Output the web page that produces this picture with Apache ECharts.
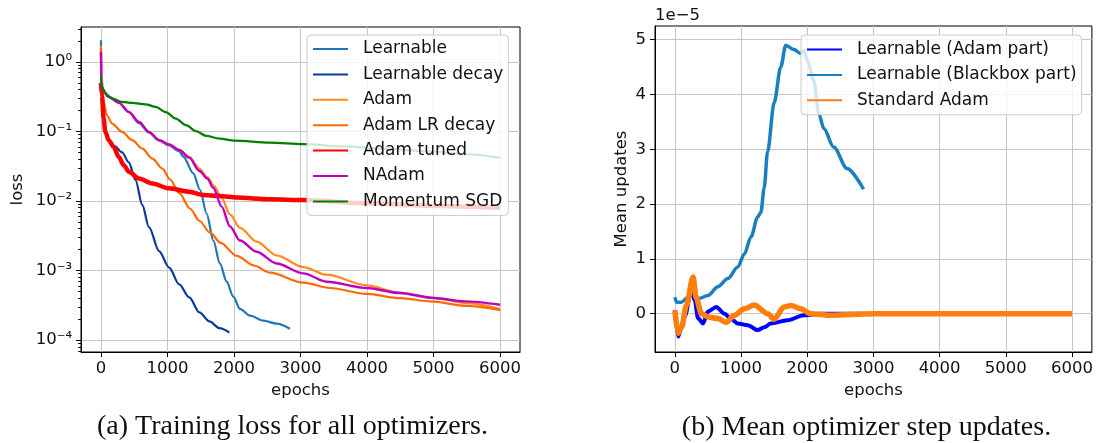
<!DOCTYPE html>
<html>
<head>
<meta charset="utf-8">
<script src="https://cdn.jsdelivr.net/npm/echarts@6/dist/echarts.min.js"></script>
<style>
  html, body { margin: 0; padding: 0; background: #fff; }
  #chart { width: 1096px; height: 443px; }
</style>
</head>
<body>
<div id="chart"></div>
<script>
// ---- (a) training loss, [epoch, loss] ----
const learnable = [[0, 2.05], [5, 0.5], [15, 0.41], [116, 0.314], [268, 0.26], [419, 0.19], [571, 0.132],
    [722, 0.096], [874, 0.074], [1025, 0.063], [1177, 0.052], [1238, 0.0436], [1388, 0.025], [1489, 0.0145],
    [1589, 0.0066], [1689, 0.0027], [1789, 0.00126], [1890, 0.00069], [1990, 0.00042], [2090, 0.00028],
    [2240, 0.000225], [2441, 0.00019], [2641, 0.000172], [2842, 0.000145]];
const learnableDecay = [[0, 0.45], [15, 0.3], [40, 0.15], [66, 0.098], [116, 0.076], [200, 0.062], [318, 0.05],
    [419, 0.036], [520, 0.02], [621, 0.0088], [722, 0.0042], [874, 0.0019], [1025, 0.0011], [1177, 0.00063],
    [1328, 0.00041], [1480, 0.00025], [1631, 0.000185], [1783, 0.000148], [1930, 0.000128]];
const adam = [[0, 1.7], [5, 0.5], [15, 0.41], [116, 0.314], [268, 0.26], [419, 0.19], [571, 0.137], [722, 0.0986],
    [874, 0.075], [1025, 0.0648], [1177, 0.054], [1328, 0.043], [1480, 0.029], [1600, 0.022], [1700, 0.0165],
    [1815, 0.011], [1940, 0.0064], [2090, 0.0041], [2341, 0.0026], [2641, 0.00165], [3042, 0.00112],
    [3393, 0.00087], [3996, 0.00061], [4488, 0.00048], [5005, 0.000405], [5500, 0.00034], [6000, 0.00028]];
const adamLrDecay = [[0, 1.6], [5, 0.45], [40, 0.266], [91, 0.171], [167, 0.13], [318, 0.0986], [470, 0.0749],
    [621, 0.0568], [773, 0.0408], [924, 0.0293], [1038, 0.0205], [1177, 0.013], [1338, 0.0078], [1480, 0.0052],
    [1639, 0.0035], [1800, 0.0025], [2040, 0.00162], [2300, 0.00118], [2541, 0.00093], [3042, 0.00067],
    [3443, 0.00056], [3996, 0.00046], [4500, 0.0004], [4953, 0.00036], [5500, 0.00031], [6000, 0.00027]];
const adamTuned = [[0, 0.5], [15, 0.33], [40, 0.154], [66, 0.099], [116, 0.075], [192, 0.06], [268, 0.043],
    [343, 0.0327], [419, 0.0263], [571, 0.021], [773, 0.0178], [1025, 0.0152], [1328, 0.0136], [1539, 0.0122],
    [1783, 0.0118], [2040, 0.0112], [2541, 0.0106], [3042, 0.0103], [4000, 0.0093], [5000, 0.0085], [6000, 0.008]];
const nadam = [[0, 1.4], [5, 0.5], [15, 0.41], [116, 0.314], [268, 0.26], [419, 0.191], [571, 0.137], [722, 0.0986],
    [874, 0.075], [1025, 0.0648], [1177, 0.054], [1328, 0.042], [1480, 0.027], [1600, 0.021], [1689, 0.0155],
    [1815, 0.0083], [1940, 0.0043], [2090, 0.0027], [2341, 0.00186], [2641, 0.00126], [3042, 0.00091],
    [3393, 0.00069], [3996, 0.00056], [4488, 0.000474], [5005, 0.000402], [5471, 0.00036], [6000, 0.000322]];
const momentumSgd = [[0, 0.62], [10, 0.45], [66, 0.35], [167, 0.3], [318, 0.266], [470, 0.257], [672, 0.246],
    [823, 0.225], [975, 0.19], [1126, 0.153], [1278, 0.123], [1429, 0.101], [1581, 0.0865], [1783, 0.079],
    [2005, 0.074], [2541, 0.069], [3042, 0.0656], [3660, 0.061], [4300, 0.056], [4953, 0.0515], [5500, 0.047],
    [6000, 0.042]];

// ---- (b) mean step updates, [epoch, value in units of 1e-5] ----
const adamPart = [[0, 0.06], [50, -0.42], [100, -0.24], [150, -0.05], [250, 0.43], [300, 0.24], [350, -0.08],
    [425, -0.18], [500, 0.04], [625, 0.12], [750, 0.0], [850, -0.1], [950, -0.18], [1100, -0.21], [1250, -0.3],
    [1350, -0.25], [1450, -0.18], [1700, -0.12], [1950, -0.03], [2200, 0.0], [2500, 0.0], [2842, 0.0]];
const blackboxPart = [[0, 0.3], [25, 0.21], [100, 0.21], [200, 0.3], [275, 0.45], [350, 0.27], [500, 0.33],
    [650, 0.49], [800, 0.64], [950, 0.85], [1050, 1.09], [1150, 1.4], [1250, 1.76], [1300, 1.85], [1350, 2.3],
    [1400, 2.95], [1500, 3.85], [1600, 4.5], [1675, 4.9], [1800, 4.82], [1900, 4.75], [1950, 4.8], [2000, 4.62],
    [2100, 4.25], [2175, 3.65], [2250, 3.38], [2400, 3.04], [2600, 2.65], [2850, 2.27]];
const standardAdam = [[0, 0.06], [50, -0.36], [100, -0.25], [175, 0.15], [275, 0.67], [320, 0.3], [400, 0.0],
    [500, -0.06], [650, -0.09], [775, -0.16], [900, -0.03], [1050, 0.09], [1200, 0.16], [1400, 0.0], [1500, -0.1],
    [1650, 0.12], [1750, 0.15], [1900, 0.09], [2050, 0.0], [2350, -0.03], [3000, 0.0], [4000, 0.0], [5000, 0.0],
    [6000, 0.0]];

const lossNames = ["Learnable", "Learnable decay", "Adam", "Adam LR decay", "Adam tuned", "NAdam", "Momentum SGD"];
const updateNames = ["Learnable (Adam part)", "Learnable (Blackbox part)", "Standard Adam"];
const epochTicks = [0, 1000, 2000, 3000, 4000, 5000, 6000];
const lossTicks = [1e-4, 1e-3, 1e-2, 1e-1, 1];
const updateTicks = [0, 1, 2, 3, 4, 5];

const FONT = "DejaVu Sans";
const SUP = { "0": "\u2070", "1": "\u00b9", "2": "\u00b2", "3": "\u00b3", "4": "\u2074", "5": "\u2075", "-": "\u207b" };

function powLabel(v) {
    const l = Math.log10(v);
    const r = Math.round(l);
    if (Math.abs(l - r) > 1e-6) return "";
    return "10" + String(r).split("").map(c => SUP[c]).join("");
}

function xAxisFor(gridIndex) {
    return {
        type: "value", gridIndex: gridIndex, min: -300, max: 6300,
        name: "epochs", nameLocation: "middle", nameGap: 29,
        nameTextStyle: { fontFamily: FONT, fontSize: 16.5, color: "#111" },
        axisLine: { onZero: false, lineStyle: { color: "#000", width: 1 } },
        axisTick: { length: 5, customValues: epochTicks, lineStyle: { color: "#000" } },
        axisLabel: {
            fontFamily: FONT, fontSize: 16.5, color: "#111", margin: 8, customValues: epochTicks,
            formatter: v => (Math.abs(v % 1000) < 1e-6 ? String(Math.round(v)) : "")
        },
        splitLine: { show: true, lineStyle: { color: "#c6c6c6", width: 1 } }
    };
}

function line(name, data, color, width, xi) {
    return {
        name: name, type: "line", data: data, xAxisIndex: xi, yAxisIndex: xi,
        symbol: "none", smooth: 0.3, smoothMonotone: "x",
        lineStyle: { color: color, width: width }, itemStyle: { color: color }
    };
}

function legendAt(left, top, names, padding) {
    return {
        orient: "vertical", left: left, top: top, data: names,
        icon: "rect", itemWidth: 35, itemHeight: 2, itemGap: 7.4,
        padding: padding, backgroundColor: "rgba(255,255,255,0.8)",
        borderColor: "#cccccc", borderWidth: 1, borderRadius: 4,
        textStyle: { fontFamily: FONT, fontSize: 17, color: "#111", lineHeight: 18, padding: [0, 0, 0, 10] },
        selectedMode: false
    };
}

const chart = echarts.init(document.getElementById("chart"));
chart.setOption({
    animation: false,
    backgroundColor: "#fff",
    grid: [
        { left: 81, top: 27, width: 439, height: 325, show: true, borderColor: "#000", borderWidth: 1 },
        { left: 655, top: 26, width: 439, height: 326, show: true, borderColor: "#000", borderWidth: 1 }
    ],
    xAxis: [xAxisFor(0), xAxisFor(1)],
    yAxis: [
        {
            type: "log", logBase: 10, gridIndex: 0, min: 6.73e-5, max: 3.18,
            name: "loss", nameLocation: "middle", nameGap: 55,
            nameTextStyle: { fontFamily: FONT, fontSize: 16.5, color: "#111" },
            axisLine: { onZero: false, lineStyle: { color: "#000", width: 1 } },
            axisTick: { length: 5, customValues: lossTicks, lineStyle: { color: "#000" } },
            minorTick: { show: true, splitNumber: 9, length: 2.8, lineStyle: { color: "#000" } },
            axisLabel: { fontFamily: FONT, fontSize: 16.5, color: "#111", margin: 9, customValues: lossTicks, formatter: powLabel },
            splitLine: { show: true, lineStyle: { color: "#c6c6c6", width: 1 } }
        },
        {
            type: "value", gridIndex: 1, min: -0.7, max: 5.25,
            name: "Mean updates", nameLocation: "middle", nameGap: 25,
            nameTextStyle: { fontFamily: FONT, fontSize: 16.5, color: "#111" },
            axisLine: { onZero: false, lineStyle: { color: "#000", width: 1 } },
            axisTick: { length: 5, customValues: updateTicks, lineStyle: { color: "#000" } },
            axisLabel: {
                fontFamily: FONT, fontSize: 16.5, color: "#111", margin: 9, customValues: updateTicks,
                formatter: v => (Math.abs(v - Math.round(v)) < 1e-6 ? String(Math.round(v)) : "")
            },
            splitLine: { show: true, lineStyle: { color: "#c6c6c6", width: 1 } }
        }
    ],
    legend: [
        legendAt(307, 35, lossNames, [5, 5, 5, 6]),
        legendAt(801, 35, updateNames, [5.5, 5, 5.5, 6])
    ],
    graphic: [
        { type: "text", x: 655, y: 16, style: { text: "1e\u22125", fontFamily: FONT, fontSize: 16.5, fill: "#111", textAlign: "left", textVerticalAlign: "middle" } },
        { type: "text", x: 292.5, y: 427, style: { text: "(a) Training loss for all optimizers.", fontFamily: "Liberation Serif", fontSize: 28, fill: "#111", textAlign: "center", textVerticalAlign: "middle" } },
        { type: "text", x: 866.5, y: 427.5, style: { text: "(b) Mean optimizer step updates.", fontFamily: "Liberation Serif", fontSize: 28, fill: "#111", textAlign: "center", textVerticalAlign: "middle" } }
    ],
    series: [
        line(lossNames[0], learnable, "#1f77b4", 2.2, 0),
        line(lossNames[1], learnableDecay, "#0b3a9c", 2.2, 0),
        line(lossNames[2], adam, "#ff8a1e", 2.2, 0),
        line(lossNames[3], adamLrDecay, "#ff6a00", 2.2, 0),
        line(lossNames[4], adamTuned, "#ff0000", 4.5, 0),
        line(lossNames[5], nadam, "#bf00bf", 2.4, 0),
        line(lossNames[6], momentumSgd, "#008000", 2.2, 0),
        line(updateNames[0], adamPart, "#0000ff", 4, 1),
        line(updateNames[1], blackboxPart, "#1a7fbf", 3.5, 1),
        line(updateNames[2], standardAdam, "#ff7f0e", 5.5, 1)
    ]
});
</script>
</body>
</html>
